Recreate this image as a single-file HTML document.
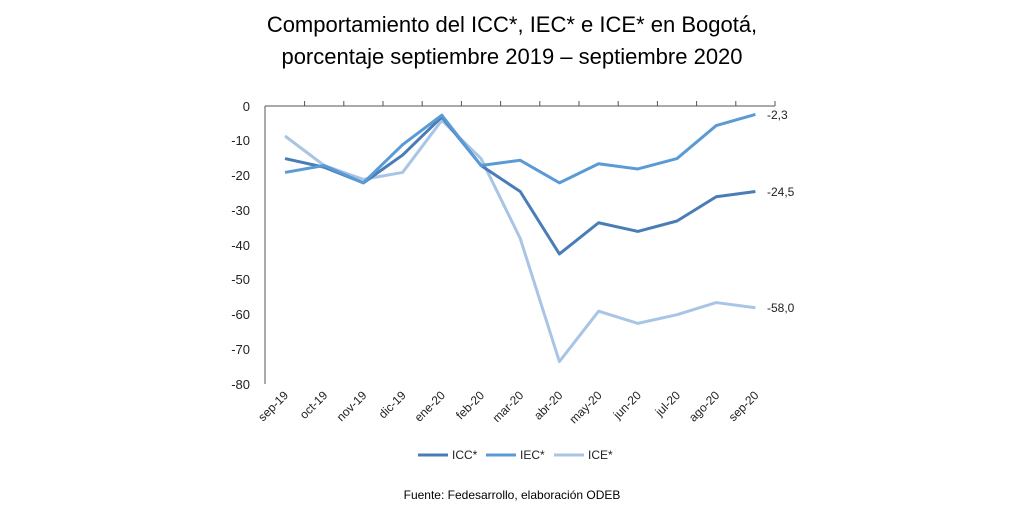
<!DOCTYPE html>
<html><head><meta charset="utf-8"><style>
body{margin:0;background:#fff;}
svg{display:block;font-family:"Liberation Sans",sans-serif;}
</style></head><body>
<svg width="1024" height="512" viewBox="0 0 1024 512" xmlns="http://www.w3.org/2000/svg">
<text x="512" y="32" text-anchor="middle" font-size="22" fill="#000">Comportamiento del ICC*, IEC* e ICE* en Bogotá,</text>
<text x="512" y="64" text-anchor="middle" font-size="22" fill="#000">porcentaje septiembre 2019 – septiembre 2020</text>
<g id="axes" stroke="#555" stroke-width="1">
<line x1="265" y1="106" x2="265" y2="384"/>
<line x1="265" y1="106" x2="775" y2="106"/>
</g>
<g font-size="13" fill="#222" text-anchor="end">
<text x="250" y="111">0</text><text x="250" y="145">-10</text><text x="250" y="180">-20</text><text x="250" y="215">-30</text><text x="250" y="250">-40</text><text x="250" y="284">-50</text><text x="250" y="319">-60</text><text x="250" y="354">-70</text><text x="250" y="389">-80</text>
</g>
<g id="ticks" stroke="#555"></g>
<g id="xl" font-size="12" fill="#222"></g>
<g id="lines" fill="none" stroke-width="3" stroke-linejoin="round"></g>
<g font-size="12" fill="#222">
<text x="767" y="119">-2,3</text><text x="767" y="196">-24,5</text><text x="767" y="312">-58,0</text>
</g>
<g font-size="12" fill="#222">
<line x1="418" y1="455" x2="448" y2="455" stroke="#4a7db5" stroke-width="3"/><text x="452" y="459">ICC*</text>
<line x1="486" y1="455" x2="516" y2="455" stroke="#5b9bd5" stroke-width="3"/><text x="520" y="459">IEC*</text>
<line x1="554" y1="455" x2="584" y2="455" stroke="#a9c5e6" stroke-width="3"/><text x="588" y="459">ICE*</text>
</g>
<text x="512" y="499" text-anchor="middle" font-size="12" fill="#000">Fuente: Fedesarrollo, elaboración ODEB</text>
</svg>
<script>
const x0=285,dx=39.2,y0=106.5,s=3.47;
const X=i=>x0+dx*i,Y=v=>y0-v*s;
const labels=["sep-19","oct-19","nov-19","dic-19","ene-20","feb-20","mar-20","abr-20","may-20","jun-20","jul-20","ago-20","sep-20"];
const data=[
["#a9c5e6",[-8.5,-17,-21,-19,-4,-15,-38,-73.5,-59,-62.5,-60,-56.5,-58]],
["#4a7db5",[-15,-17.5,-22,-14,-3,-17,-24.5,-42.5,-33.5,-36,-33,-26,-24.5]],
["#5b9bd5",[-19,-17,-22,-11,-2.5,-17,-15.5,-22,-16.5,-18,-15,-5.5,-2.3]]];
const ns="http://www.w3.org/2000/svg";
let g=document.getElementById("lines");
data.forEach(([c,d])=>{let p=document.createElementNS(ns,"polyline");p.setAttribute("points",d.map((v,i)=>X(i)+","+Y(v)).join(" "));p.setAttribute("stroke",c);g.appendChild(p);});
let t=document.getElementById("ticks"),xl=document.getElementById("xl");
for(let i=0;i<13;i++){let l=document.createElementNS(ns,"line");let xx=X(i)+dx/2;l.setAttribute("x1",xx);l.setAttribute("x2",xx);l.setAttribute("y1",106);l.setAttribute("y2",101);t.appendChild(l);
let tx=document.createElementNS(ns,"text");tx.setAttribute("transform","translate("+(X(i)+4)+",396) rotate(-45)");tx.setAttribute("text-anchor","end");tx.textContent=labels[i];xl.appendChild(tx);}
</script>
</body></html>
